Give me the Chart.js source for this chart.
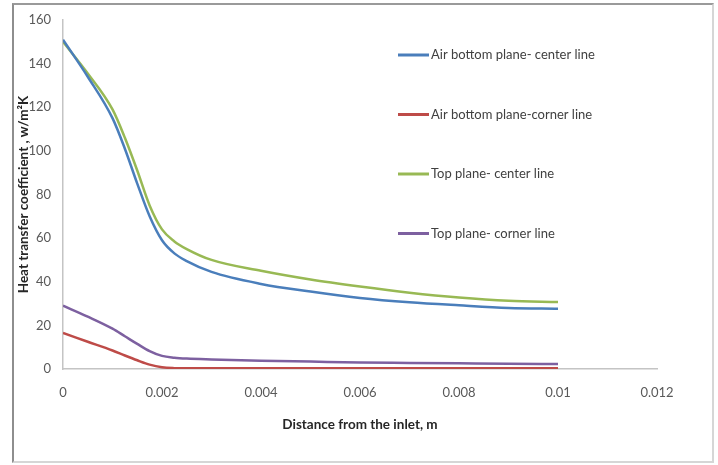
<!DOCTYPE html>
<html>
<head>
<meta charset="utf-8">
<script src="https://cdn.jsdelivr.net/npm/chart.js@4.4.1/dist/chart.umd.min.js"></script>
<style>
  html, body { margin: 0; padding: 0; background: #fff; }
  #wrap { position: relative; width: 718px; height: 465px; }
  #frame {
    position: absolute; left: 12px; top: 3px; width: 698px; height: 456px;
    border-left: 2px solid #8e8e8e; border-top: 2px solid #9a9a9a;
    border-right: 2px solid #d6d6d6; border-bottom: 2px solid #d6d6d6;
    pointer-events: none;
  }
</style>
</head>
<body>
<div id="wrap">
  <canvas id="chart" width="718" height="465"></canvas>
  <div id="frame"></div>
</div>
<script>
// distance from the inlet (m)
const distance = [0, 0.0005, 0.001, 0.00125, 0.0015, 0.00175, 0.002, 0.00225, 0.0025, 0.003, 0.004, 0.005, 0.006, 0.007, 0.008, 0.009, 0.01];

const seriesNames = [
  "Air bottom plane- center line",
  "Air bottom plane-corner line",
  "Top plane- center line",
  "Top plane- corner line"
];

// heat transfer coefficient, W/m²K
const airBottomCenter = [151, 134, 115, 101, 85, 70, 59, 53, 49.5, 44.5, 39, 35.5, 32.6, 30.6, 29.2, 28, 27.6];
const airBottomCorner = [16.5, 12.5, 8.5, 6.2, 4, 2, 0.8, 0.4, 0.3, 0.3, 0.3, 0.3, 0.3, 0.3, 0.3, 0.3, 0.3];
const topCenter = [150, 135.5, 119, 106, 91, 75, 64, 58.5, 55, 50, 45, 41, 37.8, 35, 32.8, 31.3, 30.7];
const topCorner = [29, 24, 18.5, 15, 11.5, 8.2, 6, 5.2, 4.8, 4.4, 3.8, 3.4, 3.0, 2.8, 2.6, 2.4, 2.3];

const xTickLabels = ["0", "0.002", "0.004", "0.006", "0.008", "0.01", "0.012"];
const yTickLabels = ["0", "20", "40", "60", "80", "100", "120", "140", "160"];

const colors = ["#4a7ebb", "#be4b48", "#98b954", "#7d60a0"];
const allSeries = [airBottomCenter, airBottomCorner, topCenter, topCorner];

const toPoints = (vals) => vals.map((v, i) => ({ x: distance[i], y: v }));

const FONT = "Lato, 'Open Sans', sans-serif";

// legend drawn inside the plot, stacked on the right
const sideLegend = {
  id: "sideLegend",
  afterDraw(chart) {
    const ctx = chart.ctx;
    ctx.save();
    ctx.font = "13px " + FONT;
    ctx.textBaseline = "middle";
    chart.data.datasets.forEach((ds, i) => {
      const y = 55 + i * 59.5;
      ctx.strokeStyle = ds.borderColor;
      ctx.lineWidth = 3;
      ctx.beginPath();
      ctx.moveTo(398, y);
      ctx.lineTo(429, y);
      ctx.stroke();
      ctx.fillStyle = "#404040";
      ctx.fillText(ds.label, 431, y);
    });
    ctx.restore();
  }
};

new Chart(document.getElementById("chart"), {
  type: "line",
  data: {
    datasets: seriesNames.map((name, i) => ({
      label: name,
      data: toPoints(allSeries[i]),
      borderColor: colors[i],
      backgroundColor: colors[i],
      borderWidth: 2.5,
      pointRadius: 0,
      cubicInterpolationMode: "monotone",
      fill: false
    }))
  },
  options: {
    responsive: false,
    animation: false,
    layout: { padding: { left: 0, top: 20, right: 61, bottom: 0 } },
    plugins: {
      legend: { display: false },
      tooltip: { enabled: false }
    },
    scales: {
      x: {
        type: "linear",
        min: 0,
        max: 0.012,
        grid: { display: false, drawTicks: false },
        border: { display: true, color: "#c4c4c4", width: 1.5 },
        afterFit: (s) => { s.height = 96; },
        ticks: {
          stepSize: 0.002,
          padding: 16,
          color: "#595959",
          font: { family: FONT, size: 13 },
          callback: (v, i) => xTickLabels[i]
        },
        title: {
          display: true,
          text: "Distance from the inlet, m",
          color: "#262626",
          font: { family: FONT, size: 13.5, weight: "bold" },
          padding: { top: 0, bottom: 32 }
        }
      },
      y: {
        min: 0,
        max: 160,
        grid: { display: false, drawTicks: false },
        border: { display: true, color: "#c4c4c4", width: 1.5 },
        afterFit: (s) => { s.width = 63; },
        ticks: {
          stepSize: 20,
          padding: 12,
          color: "#595959",
          font: { family: FONT, size: 13 },
          callback: (v, i) => yTickLabels[i]
        },
        title: {
          display: true,
          text: "Heat transfer coefficient , w/m²K",
          color: "#262626",
          font: { family: FONT, size: 13.5, weight: "bold" },
          padding: { top: 16, bottom: 0 }
        }
      }
    }
  },
  plugins: [sideLegend]
});
</script>
</body>
</html>
